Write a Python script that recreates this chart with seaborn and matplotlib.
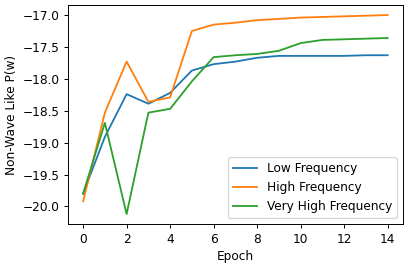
import pandas as pd
import matplotlib
matplotlib.use("Agg")
import matplotlib.pyplot as plt
import seaborn as sns

# values
epochs = list(range(15))
low_freq = [-19.80, -18.91, -18.24, -18.39, -18.22, -17.87, -17.77, -17.73,
            -17.67, -17.64, -17.64, -17.64, -17.64, -17.63, -17.63]
high_freq = [-19.92, -18.53, -17.73, -18.36, -18.29, -17.25, -17.15, -17.12,
             -17.08, -17.06, -17.04, -17.03, -17.02, -17.01, -17.00]
very_high_freq = [-19.80, -18.69, -20.12, -18.53, -18.47, -18.04, -17.66, -17.63,
                  -17.61, -17.56, -17.44, -17.39, -17.38, -17.37, -17.36]

series_names = ["Low Frequency", "High Frequency", "Very High Frequency"]

df = pd.DataFrame({
    "Epoch": epochs * 3,
    "value": low_freq + high_freq + very_high_freq,
    "series": [series_names[0]] * 15 + [series_names[1]] * 15 + [series_names[2]] * 15,
})

# the reference looks like it was rendered at a little under 90 dpi
DPI = 87
fig, ax = plt.subplots(figsize=(409 / DPI, 268 / DPI), dpi=DPI)
sns.lineplot(data=df, x="Epoch", y="value", hue="series", hue_order=series_names,
             palette=["#1f77b4", "#ff7f0e", "#2ca02c"], ax=ax)

ax.set_xlabel("Epoch")
ax.set_ylabel("Non-Wave Like P(w)")
ax.set_xticks(range(0, 15, 2))
ax.set_yticks([-20.0, -19.5, -19.0, -18.5, -18.0, -17.5, -17.0])
ax.legend(title=None, loc="lower right")

fig.subplots_adjust(left=0.166, right=0.985, top=0.981, bottom=0.164)
fig.savefig("out.png", dpi=DPI)
